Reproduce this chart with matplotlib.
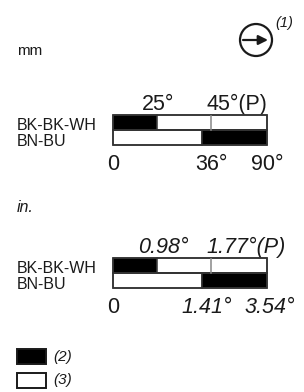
import matplotlib
matplotlib.use("Agg")
import matplotlib.pyplot as plt
from matplotlib.patches import Circle, Rectangle, FancyArrowPatch

plt.rcParams["font.family"] = ["Liberation Sans", "DejaVu Sans"]

# wire rows of the switch diagram
ROWS = ["BK-BK-WH", "BN-BU"]

# segments along the throttle travel, as drawn (fraction of full bar)
BK_WH_STARTS = [0.0, 0.286]
BK_WH_WIDTHS = [0.286, 0.714]
BK_WH_FILLS = ["black", "white"]
BK_WH_DIVIDER = 0.636          # the (P) mark
BN_BU_STARTS = [0.0, 0.578]
BN_BU_WIDTHS = [0.578, 0.422]
BN_BU_FILLS = ["white", "black"]

MM_TOP_LABELS = ["25°", "45°(P)"]
MM_BOTTOM_LABELS = ["0", "36°", "90°"]
IN_TOP_LABELS = ["0.98°", "1.77°(P)"]
IN_BOTTOM_LABELS = ["0", "1.41°", "3.54°"]

LEGEND_FILLS = ["black", "white"]
LEGEND_LABELS = ["(2)", "(3)"]

W, H = 304, 392
TXT = "#1a1a1a"
EDGE = "#333333"

fig = plt.figure(figsize=(W / 100, H / 100), dpi=100)
canvas = fig.add_axes([0, 0, 1, 1])
canvas.set_xlim(0, W)
canvas.set_ylim(H, 0)
canvas.axis("off")


def draw_bar(top_px, italic, top_labels, bottom_labels, top_x, bottom_x, top_ha):
    left, width, height = 113, 154, 30
    ax = fig.add_axes([left / W, 1 - (top_px + height) / H, width / W, height / H])
    ax.set_xlim(0, 1)
    ax.set_ylim(0, 2)
    ax.axis("off")
    ax.barh(1.5, BK_WH_WIDTHS, left=BK_WH_STARTS, height=1.0, color=BK_WH_FILLS,
            edgecolor=EDGE, linewidth=1.1, clip_on=False)
    ax.barh(0.5, BN_BU_WIDTHS, left=BN_BU_STARTS, height=1.0, color=BN_BU_FILLS,
            edgecolor=EDGE, linewidth=1.1, clip_on=False)
    ax.plot([BK_WH_DIVIDER, BK_WH_DIVIDER], [1.0, 2.0], color="#888888", lw=1.1)
    ax.barh([1.5, 0.5], [1, 1], height=1.0, fill=False, edgecolor=EDGE,
            linewidth=1.1, clip_on=False)

    style = "italic" if italic else "normal"
    px = lambda f: left + f * width
    for lab, x, ha in zip(top_labels, top_x, top_ha):
        canvas.text(px(x), top_px - 5, lab, fontsize=15.5, style=style, ha=ha,
                    va="baseline", color=TXT)
    for lab, x in zip(bottom_labels, bottom_x):
        canvas.text(px(x), top_px + height + 25, lab, fontsize=15.5,
                    style=style if lab != "0" else "normal", ha="center",
                    va="baseline", color=TXT)
    canvas.text(17, top_px + 15, ROWS[0], fontsize=11.5, va="baseline", color=TXT)
    canvas.text(17, top_px + 31, ROWS[1], fontsize=11.5, va="baseline", color=TXT)


# mm diagram
canvas.text(17, 55, "mm", fontsize=11, va="baseline", color=TXT)
draw_bar(115, False, MM_TOP_LABELS, MM_BOTTOM_LABELS,
         [0.29, 1.0], [0.0, 0.64, 1.0], ["center", "right"])

# inch diagram
canvas.text(17, 212, "in.", fontsize=11.5, style="italic", va="baseline", color=TXT)
draw_bar(258, True, IN_TOP_LABELS, IN_BOTTOM_LABELS,
         [0.33, 0.604], [0.0, 0.61, 1.02], ["center", "left"])

# direction symbol
canvas.add_patch(Circle((256, 40), 16, fill=False, edgecolor=TXT, lw=1.6))
canvas.add_patch(FancyArrowPatch((243, 40), (268, 40), arrowstyle="-|>",
                                 mutation_scale=14, color=TXT, lw=1.6,
                                 shrinkA=0, shrinkB=0))
canvas.text(275, 27, "(1)", fontsize=10.5, style="italic", va="baseline", color=TXT)

# legend
for i, (fill, lab) in enumerate(zip(LEGEND_FILLS, LEGEND_LABELS)):
    y = 349 + i * 23.5
    canvas.add_patch(Rectangle((17, y), 29, 15, facecolor=fill, edgecolor=TXT, lw=1.4))
    canvas.text(53, y + 7.5, lab, fontsize=11, style="italic", va="center", color=TXT)

fig.savefig("out.png", dpi=100)
